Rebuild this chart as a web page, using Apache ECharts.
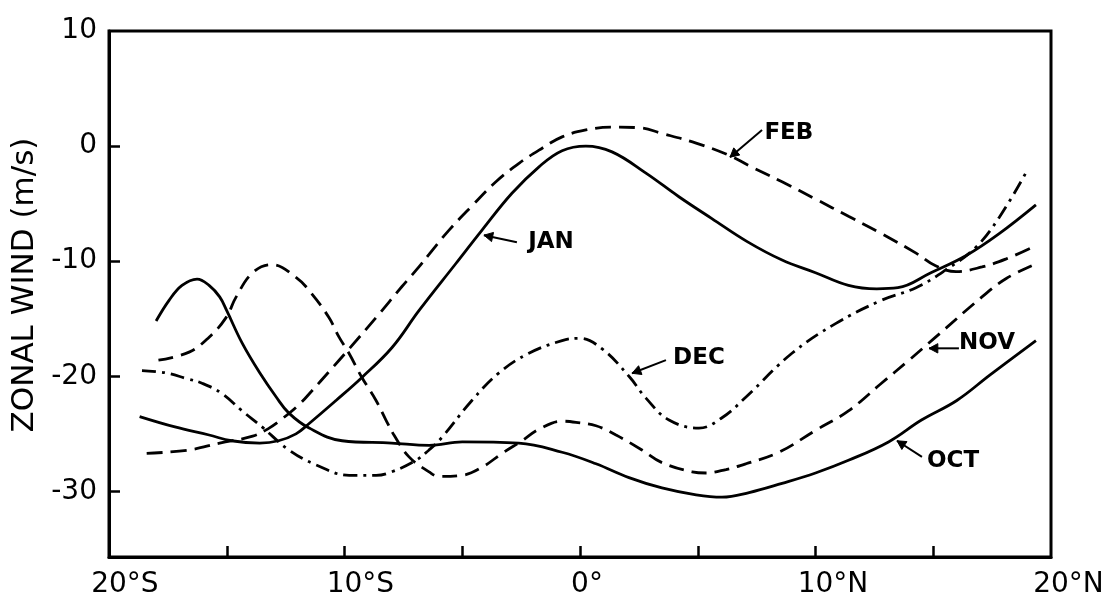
<!DOCTYPE html>
<html>
<head>
<meta charset="utf-8">
<script src="https://cdn.jsdelivr.net/npm/echarts@6/dist/echarts.min.js"></script>
<style>
html,body{margin:0;padding:0;background:#fff;}
#c{width:1111px;height:607px;}
</style>
</head>
<body>
<div id="c"></div>
<script>
// ---------- data (latitude in degrees, negative = south; zonal wind in m/s) ----------
const latOct  = [-18.0,-17.45,-16.9,-16.26,-15.75,-15.3,-15.0,-14.35,-13.6,-12.9,-12.36,-11.5,-10.1,-8.0,-6.4,-5.0,-2.6,-0.76,0.68,2.08,3.48,4.93,6.03,7.18,8.58,10.0,11.4,13.1,14.5,16.0,17.4,19.36];
const windOct = [-15.2,-13.4,-12.1,-11.55,-12.1,-13.1,-14.3,-17.1,-19.7,-21.8,-23.2,-24.5,-25.6,-25.8,-26.0,-25.7,-25.8,-26.6,-27.6,-28.8,-29.7,-30.3,-30.5,-30.1,-29.3,-28.4,-27.3,-25.7,-23.8,-22.1,-19.9,-16.9];

const latNov  = [-17.9,-16.6,-15.75,-15.03,-14.6,-13.9,-13.1,-12.06,-11.4,-10.66,-10.23,-9.81,-9.26,-8.66,-8.24,-7.9,-7.26,-6.41,-5.99,-5.0,-4.16,-3.31,-2.46,-1.74,-0.76,-0.17,0.68,1.53,2.63,3.48,4.76,5.35,6.2,7.05,8.45,10.0,11.4,12.8,13.97,15.1,17.07,18.1,19.4];
const windNov = [-18.6,-17.9,-16.6,-14.9,-13.1,-11.0,-10.3,-11.4,-12.8,-14.9,-16.6,-18.0,-20.1,-22.1,-23.8,-25.1,-27.0,-28.3,-28.7,-28.6,-27.9,-26.7,-25.6,-24.6,-23.9,-24.0,-24.3,-25.1,-26.4,-27.5,-28.3,-28.4,-28.1,-27.6,-26.6,-24.7,-23.0,-20.6,-18.6,-16.6,-13.1,-11.5,-10.2];

const latDec  = [-18.6,-17.6,-16.7,-16.05,-15.2,-14.35,-13.5,-12.36,-11.2,-9.8,-8.66,-8.0,-6.96,-6.41,-5.86,-4.59,-3.44,-2.17,-0.76,-0.04,0.93,2.08,2.8,3.78,5.05,6.03,7.05,9.0,10.87,12.8,14.27,15.5,16.8,17.8,18.94];
const windDec = [-19.5,-19.7,-20.2,-20.6,-21.5,-23.0,-24.4,-26.4,-27.7,-28.6,-28.6,-28.3,-27.3,-26.4,-25.3,-22.1,-19.7,-18.0,-16.9,-16.7,-17.6,-20.0,-21.9,-23.8,-24.5,-23.6,-21.8,-18.0,-15.4,-13.4,-12.3,-10.8,-8.8,-6.2,-2.3];

const latJan  = [-18.7,-17.2,-15.75,-14.8,-13.6,-12.8,-12.06,-11.5,-10.36,-9.26,-7.98,-6.84,-5.27,-4.16,-2.89,-1.74,-0.76,0.25,1.36,2.8,4.2,5.6,7.1,8.58,10.0,11.4,12.6,13.5,14.9,16.4,17.8,19.36];
const windJan = [-23.5,-24.4,-25.1,-25.6,-25.8,-25.6,-25.0,-24.1,-22.1,-20.1,-17.5,-14.3,-10.2,-7.3,-4.1,-1.8,-0.4,0.0,-0.5,-2.35,-4.4,-6.3,-8.3,-9.9,-11.0,-12.1,-12.4,-12.3,-11.0,-9.5,-7.6,-5.1];

const latFeb  = [-18.4,-16.6,-15.3,-13.9,-13.2,-12.65,-11.9,-11.4,-10.66,-9.8,-8.66,-7.56,-6.84,-6.41,-5.56,-4.59,-3.57,-2.59,-1.74,-0.76,0.25,1.36,2.5,3.48,4.93,6.33,7.18,8.58,10.0,11.4,12.8,14.27,15.1,15.97,17.07,18.1,19.2];
const windFeb = [-26.7,-26.4,-25.8,-25.2,-24.5,-23.7,-22.4,-21.3,-19.6,-17.6,-14.9,-12.2,-10.5,-9.4,-7.3,-5.2,-3.1,-1.5,-0.35,0.8,1.4,1.65,1.6,1.1,0.26,-0.8,-1.7,-3.1,-4.6,-6.1,-7.6,-9.3,-10.4,-10.9,-10.5,-9.8,-8.8];

// axis ticks / labels
const xMin = -20, xMax = 20;
const yMin = -35.7, yMax = 10;
const xTickValues  = [-15,-10,-5,0,5,10,15];
const xLabelValues = [-20,-10,0,10,20];
const xLabelNums   = ['20','10','0','10','20'];
const xLabelSuffix = ['°S','°S','°','°N','°N'];
const yTickValues  = [-30,-20,-10,0];
const yLabelValues = [-30,-20,-10,0,10];
const yAxisTitle   = 'ZONAL WIND (m/s)';

// curve annotations (data coordinates): label, text centre, arrow tail, arrow tip
const annoText = ['JAN','FEB','DEC','NOV','OCT'];
const annoTextPos = [[-1.23,-8.35],[8.87,1.13],[5.05,-18.4],[17.28,-17.1],[15.84,-27.4]];
const annoTail    = [[-2.68,-8.35],[7.73,1.39],[3.65,-18.6],[16.09,-17.57],[14.52,-27.0]];
const annoTip     = [[-4.08,-7.74],[6.37,-0.96],[2.21,-19.74],[14.82,-17.57],[13.46,-25.6]];

// ---------- chart ----------
const pairs = (xs, ys) => xs.map((x, i) => [x, ys[i]]);
const FONT = 'DejaVu Sans';

function mkSeries(name, xs, ys, dash) {
  return {
    name: name, type: 'line', data: pairs(xs, ys),
    smooth: 0.4, showSymbol: false, symbol: 'none', silent: true,
    lineStyle: { color: '#000', width: 2.8, type: dash, cap: 'butt' },
    animation: false
  };
}

const option = {
  backgroundColor: '#fff',
  animation: false,
  grid: {
    left: 109, right: 60, top: 31, bottom: 50,
    show: true, borderColor: '#000', borderWidth: 3, backgroundColor: 'transparent',
    containLabel: false, outerBoundsMode: 'none'
  },
  xAxis: {
    type: 'value', min: xMin, max: xMax, interval: 5,
    axisLine: { show: true, onZero: false, lineStyle: { color: '#000', width: 3 } },
    splitLine: { show: false },
    axisTick: { show: true, inside: true, length: 11, customValues: xTickValues,
                lineStyle: { color: '#000', width: 2.5 } },
    axisLabel: {
      show: true, customValues: xLabelValues, margin: 14,
      formatter: function (v) {
        const i = xLabelValues.indexOf(v);
        if (i < 0) return '';
        return '{h|' + xLabelSuffix[i] + '}{t|' + xLabelNums[i] + xLabelSuffix[i] + '}';
      },
      rich: {
        h: { color: 'rgba(0,0,0,0)', fontFamily: FONT, fontSize: 28 },
        t: { color: '#000', fontFamily: FONT, fontSize: 28 }
      }
    }
  },
  yAxis: {
    type: 'value', min: yMin, max: yMax,
    name: yAxisTitle, nameLocation: 'middle', nameRotate: 90, nameGap: 60,
    nameTextStyle: { color: '#000', fontFamily: FONT, fontSize: 31, padding: [0, 0, 0, 18] },
    axisLine: { show: true, onZero: false, lineStyle: { color: '#000', width: 3 } },
    splitLine: { show: false },
    axisTick: { show: true, inside: true, length: 11, customValues: yTickValues,
                lineStyle: { color: '#000', width: 2.5 } },
    axisLabel: {
      show: true, customValues: yLabelValues, margin: 12,
      color: '#000', fontFamily: FONT, fontSize: 28
    }
  },
  series: [
    mkSeries('OCT', latOct, windOct, 'solid'),
    mkSeries('NOV', latNov, windNov, [15, 8]),
    mkSeries('DEC', latDec, windDec, [14, 6, 3, 6]),
    mkSeries('JAN', latJan, windJan, 'solid'),
    mkSeries('FEB', latFeb, windFeb, [16, 8])
  ]
};

const chart = echarts.init(document.getElementById('c'), null, { renderer: 'canvas' });
chart.setOption(option);

// annotations with arrows, positioned through the chart's own coordinate system
const graphics = [];
annoText.forEach(function (label, i) {
  const tp = chart.convertToPixel({ gridIndex: 0 }, annoTextPos[i]);
  const ta = chart.convertToPixel({ gridIndex: 0 }, annoTail[i]);
  const tip = chart.convertToPixel({ gridIndex: 0 }, annoTip[i]);
  graphics.push({
    type: 'text', silent: true,
    style: { text: label, x: tp[0], y: tp[1], fill: '#000',
             font: 'bold 23px "DejaVu Sans"',
             align: 'center', verticalAlign: 'middle',
             textAlign: 'center', textVerticalAlign: 'middle' }
  });
  graphics.push({
    type: 'line', silent: true,
    shape: { x1: ta[0], y1: ta[1], x2: tip[0], y2: tip[1] },
    style: { stroke: '#000', lineWidth: 2 }
  });
  const dx = tip[0] - ta[0], dy = tip[1] - ta[1];
  const L = Math.sqrt(dx * dx + dy * dy) || 1;
  const ux = dx / L, uy = dy / L;
  const ang = 28 * Math.PI / 180, hl = 10;
  const rot = function (a) {
    return [ux * Math.cos(a) - uy * Math.sin(a), ux * Math.sin(a) + uy * Math.cos(a)];
  };
  const r1 = rot(ang), r2 = rot(-ang);
  graphics.push({
    type: 'polygon', silent: true,
    shape: { points: [
      [tip[0] - hl * r1[0], tip[1] - hl * r1[1]],
      [tip[0], tip[1]],
      [tip[0] - hl * r2[0], tip[1] - hl * r2[1]]
    ] },
    style: { fill: '#000', stroke: '#000', lineWidth: 1 }
  });
});
chart.setOption({ graphic: graphics });
</script>
</body>
</html>
